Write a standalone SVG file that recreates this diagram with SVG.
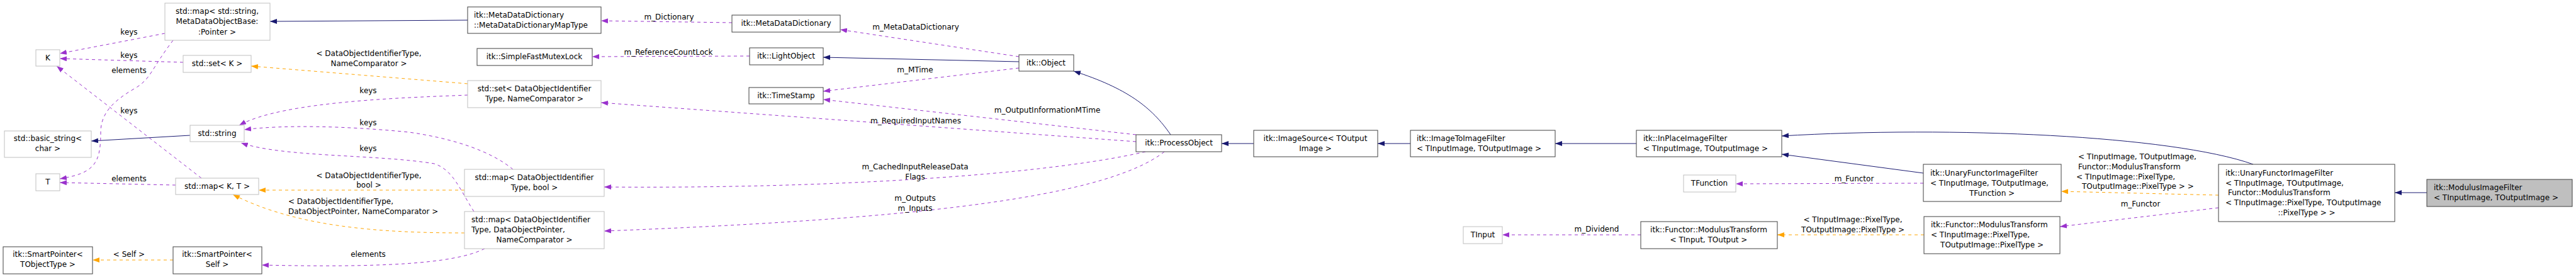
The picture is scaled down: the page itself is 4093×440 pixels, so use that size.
<svg xmlns="http://www.w3.org/2000/svg" width="4093" height="440" viewBox="0 0 4093 440">
<style>
text{font-family:"DejaVu Sans",sans-serif;font-size:12px;fill:#000}
.c{text-anchor:middle}
.b{fill:#fff;stroke:#404040;stroke-width:1}
.g{fill:#fff;stroke:#bfbfbf;stroke-width:1}
.h{fill:#bfbfbf;stroke:#404040;stroke-width:1}
.n{fill:none;stroke:#191970;stroke-width:1}
.p{fill:none;stroke:#9a32cd;stroke-width:1;stroke-dasharray:5,5}
.o{fill:none;stroke:#ffa500;stroke-width:1;stroke-dasharray:5,5}
.n{marker-end:url(#mn)}
.p{marker-end:url(#mp)}
.o{marker-end:url(#mo)}
</style>
<defs>
<marker id="mn" markerUnits="userSpaceOnUse" markerWidth="11" markerHeight="8" refX="11" refY="4" orient="auto"><path d="M0,0 L11,4 L0,8 z" fill="#191970"/></marker>
<marker id="mp" markerUnits="userSpaceOnUse" markerWidth="11" markerHeight="8" refX="11" refY="4" orient="auto"><path d="M0,0 L11,4 L0,8 z" fill="#9a32cd"/></marker>
<marker id="mo" markerUnits="userSpaceOnUse" markerWidth="11" markerHeight="8" refX="11" refY="4" orient="auto"><path d="M0,0 L11,4 L0,8 z" fill="#ffa500"/></marker>
</defs>
<rect width="4093" height="440" fill="#fff"/>
<g id="edges">
<path class="n" d="M743,32 L429,34"/>
<path class="n" d="M1619,98 L1308,91"/>
<path class="n" d="M1860,214 C1830,170 1790,140 1706,113"/>
<path class="n" d="M1992,228 L1941,228"/>
<path class="n" d="M2241,228 L2189,228"/>
<path class="n" d="M2600,228 L2471,228"/>
<path class="n" d="M3056,275 L2831,245"/>
<path class="n" d="M3580,261 C3450,215 3100,200 2831,216"/>
<path class="n" d="M3856,306 L3805,306"/>
<path class="n" d="M302,215 L145,224"/>
<path class="p" d="M262,53 L95,85"/>
<path class="p" d="M291,99 L95,93"/>
<path class="p" d="M275,64 C240,110 240,125 215,140 C180,160 160,180 160,210 C160,260 150,275 95,284"/>
<path class="p" d="M320,283 L90,105"/>
<path class="p" d="M279,294 L95,290"/>
<path class="p" d="M743,151 C650,155 450,160 380,199"/>
<path class="p" d="M815,269 C780,240 720,220 650,210 C550,200 450,198 388,206"/>
<path class="p" d="M753,336 C730,300 720,270 690,260 C600,245 450,250 383,227"/>
<path class="p" d="M770,395 C720,420 600,425 416,421"/>
<path class="p" d="M1163,36 L955,33"/>
<path class="p" d="M1619,90 L1335,47"/>
<path class="p" d="M1191,89 L941,90"/>
<path class="p" d="M1619,108 L1308,145"/>
<path class="p" d="M1805,214 L1308,158"/>
<path class="p" d="M1805,225 L955,163"/>
<path class="p" d="M1820,241 C1650,280 1300,300 960,297"/>
<path class="p" d="M1850,241 C1750,320 1400,350 960,367"/>
<path class="p" d="M3056,291 L2758,292"/>
<path class="p" d="M2607,373 L2387,373"/>
<path class="p" d="M3525,330 L3273,360"/>
<path class="o" d="M743,133 L399,105"/>
<path class="o" d="M738,302 L411,302"/>
<path class="o" d="M738,370 C600,370 470,360 370,309"/>
<path class="o" d="M275,413 L147,413"/>
<path class="o" d="M3057,373 L2824,373"/>
<path class="o" d="M3525,310 L3275,304"/>
<text class="c" x="205" y="55">keys</text>
<text class="c" x="205" y="92">keys</text>
<text class="c" x="205" y="116">elements</text>
<text class="c" x="205" y="180">keys</text>
<text class="c" x="205" y="288">elements</text>
<text class="c" x="205" y="408">&lt; Self &gt;</text>
<text class="c" x="586" y="89">&lt; DataObjectIdentifierType,</text>
<text class="c" x="586" y="105">NameComparator &gt;</text>
<text class="c" x="585" y="148">keys</text>
<text class="c" x="585" y="199">keys</text>
<text class="c" x="585" y="240">keys</text>
<text class="c" x="586" y="283">&lt; DataObjectIdentifierType,</text>
<text class="c" x="586" y="298">bool &gt;</text>
<text x="458" y="324">&lt; DataObjectIdentifierType,</text>
<text x="458" y="340">DataObjectPointer, NameComparator &gt;</text>
<text class="c" x="585" y="408">elements</text>
<text class="c" x="1063" y="31">m_Dictionary</text>
<text class="c" x="1062" y="87">m_ReferenceCountLock</text>
<text class="c" x="1455" y="47">m_MetaDataDictionary</text>
<text class="c" x="1454" y="115">m_MTime</text>
<text class="c" x="1664" y="179">m_OutputInformationMTime</text>
<text class="c" x="1455" y="196">m_RequiredInputNames</text>
<text class="c" x="1454" y="269">m_CachedInputReleaseData</text>
<text class="c" x="1454" y="285">Flags</text>
<text class="c" x="1454" y="319">m_Outputs</text>
<text class="c" x="1454" y="335">m_Inputs</text>
<text class="c" x="2537" y="368">m_Dividend</text>
<text class="c" x="2946" y="288">m_Functor</text>
<text class="c" x="2944" y="353">&lt; TInputImage::PixelType,</text>
<text class="c" x="2944" y="369">TOutputImage::PixelType &gt;</text>
<text x="3302" y="253">&lt; TInputImage, TOutputImage,</text>
<text x="3302" y="269">Functor::ModulusTransform</text>
<text x="3299" y="285">&lt; TInputImage::PixelType,</text>
<text x="3308" y="300">TOutputImage::PixelType &gt; &gt;</text>
<text class="c" x="3401" y="328">m_Functor</text>
</g>
<g id="n_map_string"><rect class="g" x="262" y="5" width="167" height="59"/><text class="c" x="345" y="22">std::map&lt; std::string,</text><text class="c" x="345" y="38">MetaDataObjectBase:</text><text class="c" x="345" y="55">:Pointer &gt;</text></g>
<g id="n_K"><rect class="g" x="57" y="79" width="38" height="26"/><text class="c" x="76" y="96">K</text></g>
<g id="n_setK"><rect class="g" x="291" y="88" width="108" height="27"/><text class="c" x="345" y="105">std::set&lt; K &gt;</text></g>
<g id="n_string"><rect class="g" x="302" y="199" width="86" height="26"/><text class="c" x="345" y="216">std::string</text></g>
<g id="n_basic"><rect class="g" x="7" y="208" width="138" height="42"/><text class="c" x="76" y="224">std::basic_string&lt;</text><text class="c" x="76" y="240">char &gt;</text></g>
<g id="n_T"><rect class="g" x="57" y="276" width="38" height="27"/><text class="c" x="76" y="293">T</text></g>
<g id="n_mapKT"><rect class="g" x="279" y="283" width="132" height="26"/><text class="c" x="345" y="300">std::map&lt; K, T &gt;</text></g>
<g id="n_spT"><rect class="b" x="5" y="392" width="142" height="43"/><text class="c" x="76" y="408">itk::SmartPointer&lt;</text><text class="c" x="76" y="424">TObjectType &gt;</text></g>
<g id="n_spSelf"><rect class="b" x="275" y="392" width="141" height="43"/><text class="c" x="345" y="408">itk::SmartPointer&lt;</text><text class="c" x="345" y="424">Self &gt;</text></g>
<g id="n_maptype"><rect class="b" x="743" y="11" width="212" height="42"/><text x="753" y="28">itk::MetaDataDictionary</text><text x="753" y="44">::MetaDataDictionaryMapType</text></g>
<g id="n_mdd"><rect class="b" x="1163" y="24" width="172" height="27"/><text class="c" x="1249" y="41">itk::MetaDataDictionary</text></g>
<g id="n_sfml"><rect class="b" x="758" y="77" width="183" height="27"/><text class="c" x="849" y="94">itk::SimpleFastMutexLock</text></g>
<g id="n_light"><rect class="b" x="1191" y="76" width="117" height="27"/><text class="c" x="1249" y="93">itk::LightObject</text></g>
<g id="n_setDOIT"><rect class="g" x="743" y="128" width="212" height="43"/><text class="c" x="849" y="145">std::set&lt; DataObjectIdentifier</text><text class="c" x="849" y="161">Type, NameComparator &gt;</text></g>
<g id="n_ts"><rect class="b" x="1190" y="139" width="118" height="26"/><text class="c" x="1249" y="156">itk::TimeStamp</text></g>
<g id="n_mapbool"><rect class="g" x="738" y="269" width="222" height="43"/><text class="c" x="849" y="286">std::map&lt; DataObjectIdentifier</text><text class="c" x="849" y="302">Type, bool &gt;</text></g>
<g id="n_mapdop"><rect class="g" x="738" y="336" width="222" height="59"/><text x="749" y="353">std::map&lt; DataObjectIdentifier</text><text x="749" y="369">Type, DataObjectPointer,</text><text class="c" x="849" y="385">NameComparator &gt;</text></g>
<g id="n_object"><rect class="b" x="1619" y="87" width="87" height="26"/><text class="c" x="1662" y="104">itk::Object</text></g>
<g id="n_process"><rect class="b" x="1805" y="214" width="136" height="27"/><text class="c" x="1873" y="231">itk::ProcessObject</text></g>
<g id="n_source"><rect class="b" x="1992" y="207" width="197" height="42"/><text class="c" x="2090" y="224">itk::ImageSource&lt; TOutput</text><text class="c" x="2090" y="240">Image &gt;</text></g>
<g id="n_i2i"><rect class="b" x="2241" y="207" width="230" height="42"/><text x="2251" y="224">itk::ImageToImageFilter</text><text x="2251" y="240">&lt; TInputImage, TOutputImage &gt;</text></g>
<g id="n_inplace"><rect class="b" x="2600" y="207" width="231" height="42"/><text x="2611" y="224">itk::InPlaceImageFilter</text><text x="2611" y="240">&lt; TInputImage, TOutputImage &gt;</text></g>
<g id="n_tfunc"><rect class="g" x="2675" y="278" width="83" height="27"/><text class="c" x="2716" y="295">TFunction</text></g>
<g id="n_tinput"><rect class="g" x="2325" y="360" width="62" height="27"/><text class="c" x="2356" y="377">TInput</text></g>
<g id="n_mt1"><rect class="b" x="2607" y="352" width="217" height="43"/><text class="c" x="2715" y="369">itk::Functor::ModulusTransform</text><text class="c" x="2715" y="385">&lt; TInput, TOutput &gt;</text></g>
<g id="n_uf1"><rect class="b" x="3056" y="261" width="219" height="59"/><text x="3067" y="279">itk::UnaryFunctorImageFilter</text><text x="3067" y="295">&lt; TInputImage, TOutputImage,</text><text class="c" x="3165" y="311">TFunction &gt;</text></g>
<g id="n_mt2"><rect class="b" x="3057" y="344" width="216" height="59"/><text x="3068" y="361">itk::Functor::ModulusTransform</text><text x="3068" y="377">&lt; TInputImage::PixelType,</text><text class="c" x="3165" y="393">TOutputImage::PixelType &gt;</text></g>
<g id="n_uf2"><rect class="b" x="3525" y="261" width="280" height="91"/><text x="3536" y="279">itk::UnaryFunctorImageFilter</text><text x="3536" y="295">&lt; TInputImage, TOutputImage,</text><text x="3540" y="310">Functor::ModulusTransform</text><text x="3536" y="326">&lt; TInputImage::PixelType, TOutputImage</text><text class="c" x="3665" y="342">::PixelType &gt; &gt;</text></g>
<g id="n_mod"><rect class="h" x="3856" y="285" width="231" height="43"/><text x="3867" y="302">itk::ModulusImageFilter</text><text x="3867" y="318">&lt; TInputImage, TOutputImage &gt;</text></g>
</svg>
